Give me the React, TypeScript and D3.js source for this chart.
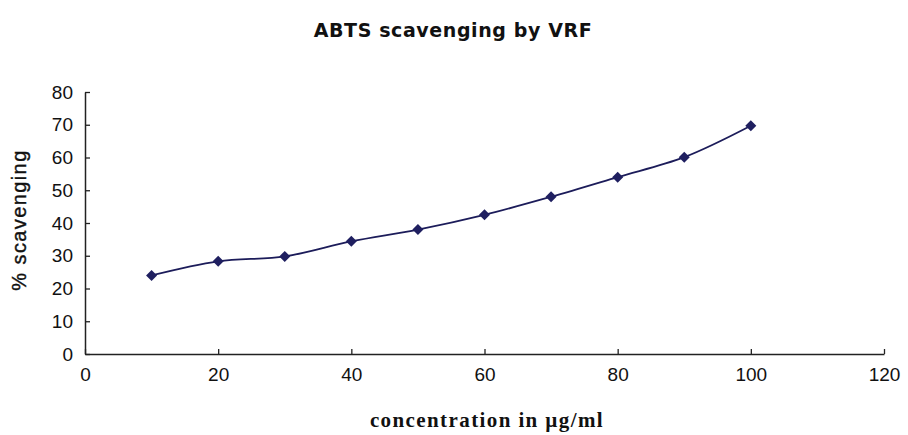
import React, { useRef, useEffect } from 'react';
import * as d3 from 'd3';

const concentrations = [10, 20, 30, 40, 50, 60, 70, 80, 90, 100];
const scavenging = [24.0, 28.3, 29.8, 34.4, 38.0, 42.5, 48.0, 54.0, 60.1, 69.7];
const xTicks = [0, 20, 40, 60, 80, 100, 120];
const yTicks = [0, 10, 20, 30, 40, 50, 60, 70, 80];

const App = () => {
  const svgRef = useRef<SVGSVGElement>(null);

  useEffect(() => {
    if (!svgRef.current) return;
    const svg = d3.select(svgRef.current);
    svg.selectAll('*').remove();

    const left = 85, right = 884, top = 92, bottom = 354;
    const x = d3.scaleLinear().domain([0, 120]).range([left, right]);
    const y = d3.scaleLinear().domain([0, 80]).range([bottom, top]);
    const ink = '#222';

    // title
    svg.append('text')
      .attr('x', 453).attr('y', 37)
      .attr('text-anchor', 'middle')
      .attr('font-family', 'DejaVu Sans, Verdana, sans-serif')
      .attr('font-weight', 'bold')
      .attr('font-size', 19)
      .attr('letter-spacing', 0.6)
      .attr('fill', '#111')
      .text('ABTS scavenging by VRF');

    // axes
    const xAxis = svg.append('g').attr('transform', `translate(0,${bottom})`)
      .call(d3.axisBottom(x).tickValues(xTicks).tickSize(-5).tickSizeOuter(0).tickPadding(14));
    const yAxis = svg.append('g').attr('transform', `translate(${left},0)`)
      .call(d3.axisLeft(y).tickValues(yTicks).tickSize(-5).tickSizeOuter(0).tickPadding(12));

    [xAxis, yAxis].forEach(g => {
      g.select('.domain').attr('stroke', ink).attr('stroke-width', 1.5);
      g.selectAll('.tick line').attr('stroke', ink).attr('stroke-width', 1.3);
      g.selectAll('.tick text')
        .attr('font-family', 'Liberation Sans, Arial, sans-serif')
        .attr('font-size', 19)
        .attr('fill', '#111');
    });

    // series line
    const pts = concentrations.map((c, i) => [c, scavenging[i]] as [number, number]);
    svg.append('path')
      .datum(pts)
      .attr('fill', 'none')
      .attr('stroke', '#1c1c5a')
      .attr('stroke-width', 1.8)
      .attr('d', d3.line<[number, number]>().x(d => x(d[0])).y(d => y(d[1])).curve(d3.curveCatmullRom.alpha(0.5)));

    svg.append('g').selectAll('path')
      .data(pts)
      .enter().append('path')
      .attr('transform', d => `translate(${x(d[0])},${y(d[1])})`)
      .attr('d', 'M0,-5.5L5.5,0L0,5.5L-5.5,0Z')
      .attr('fill', '#1f1f60');

    // axis titles
    svg.append('text')
      .attr('x', 487).attr('y', 427)
      .attr('text-anchor', 'middle')
      .attr('font-family', 'Liberation Serif, Times New Roman, serif')
      .attr('font-weight', 'bold')
      .attr('font-size', 21)
      .attr('letter-spacing', 1.4)
      .attr('fill', '#111')
      .text('concentration in µg/ml');

    svg.append('text')
      .attr('transform', 'translate(26,220) rotate(-90)')
      .attr('text-anchor', 'middle')
      .attr('font-family', 'Liberation Sans, Arial, sans-serif')
      .attr('font-size', 20)
      .attr('letter-spacing', 1.4)
      .attr('fill', '#111')
      .attr('stroke', '#111')
      .attr('stroke-width', 0.4)
      .text('% scavenging');
  }, []);

  return (
    <svg ref={svgRef} width={908} height={435}
      style={{ position: 'absolute', left: 0, top: 0, background: '#fff' }} />
  );
};

export default App;
